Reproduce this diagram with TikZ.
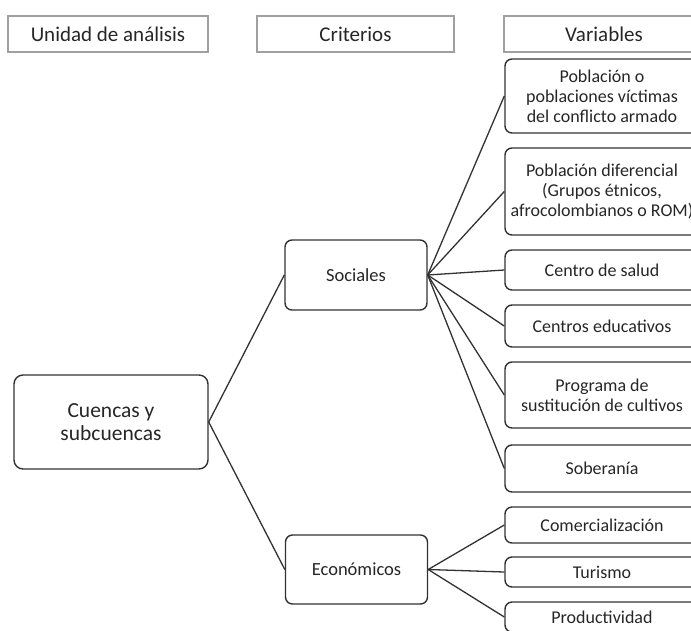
\documentclass[tikz,border=0pt]{standalone}
\usepackage{fontspec}
\setmainfont{Carlito}
\usetikzlibrary{positioning}
\definecolor{ink}{RGB}{38,38,38}
\definecolor{edge}{RGB}{50,50,50}
\definecolor{frame}{RGB}{160,160,160}
\tikzset{
  head/.style={draw=frame,line width=1.5pt,minimum width=#1,minimum height=36pt,
    text=ink,font=\fontsize{21}{24}\selectfont,inner sep=0pt},
  head/.default=200pt,
  crit/.style={draw=edge,line width=1.4pt,rounded corners=7pt,minimum width=142pt,
    minimum height=70pt,text=ink,font=\fontsize{18.5}{21}\selectfont,align=center},
  var/.style={draw=edge,line width=1.4pt,rounded corners=7pt,minimum width=194pt,
    minimum height=#1,text=ink,font=\fontsize{18}{20}\selectfont,align=center,inner sep=1pt},
  var/.default=40pt,
  link/.style={draw=edge,line width=1.3pt},
}
\begin{document}
\begin{tikzpicture}[x=1pt,y=-1pt]
  \useasboundingbox (0,0) rectangle (691,630);
  % headers
  \node[head] (hu) at (108,34) {Unidad de análisis};
  \node[head=197pt] (hc) at (355.5,34) {Criterios};
  \node[head] (hv) at (604,34) {Variables};
  % unit and criteria
  \node[crit,minimum width=194pt,minimum height=94pt,rounded corners=9pt,
    font=\fontsize{21.5}{23}\selectfont] (cu) at (111,422) {Cuencas y\\subcuencas};
  \node[crit] (so) at (356,275) {Sociales};
  \node[crit,minimum height=69pt] (ec) at (356.5,569.5) {Económicos};
  \draw[link] (cu.east) -- (so.west);
  \draw[link] (cu.east) -- (ec.west);
  % variables
  \foreach \t/\y/\h [count=\k] in {
    {Población o\\poblaciones víctimas\\del conflicto armado}/96/74pt,
    {Población diferencial\\(Grupos étnicos,\\afrocolombianos o ROM)}/191.5/87pt,
    {Centro de salud}/270/40pt,
    {Centros educativos}/326/42pt,
    {Programa de\\sustitución de cultivos}/395/66pt,
    {Soberanía}/468.5/47pt}{
    \node[var=\h] (s\k) at (602,\y) {\t};
    \draw[link] (so.east) -- (s\k.west);
  }
  \foreach \t/\y/\h [count=\k] in {Comercialización/525/36pt,Turismo/572/30pt,Productividad/617/30pt}{
    \node[var=\h] (e\k) at (602,\y) {\t};
    \draw[link] (ec.east) -- (e\k.west);
  }
\end{tikzpicture}
\end{document}
